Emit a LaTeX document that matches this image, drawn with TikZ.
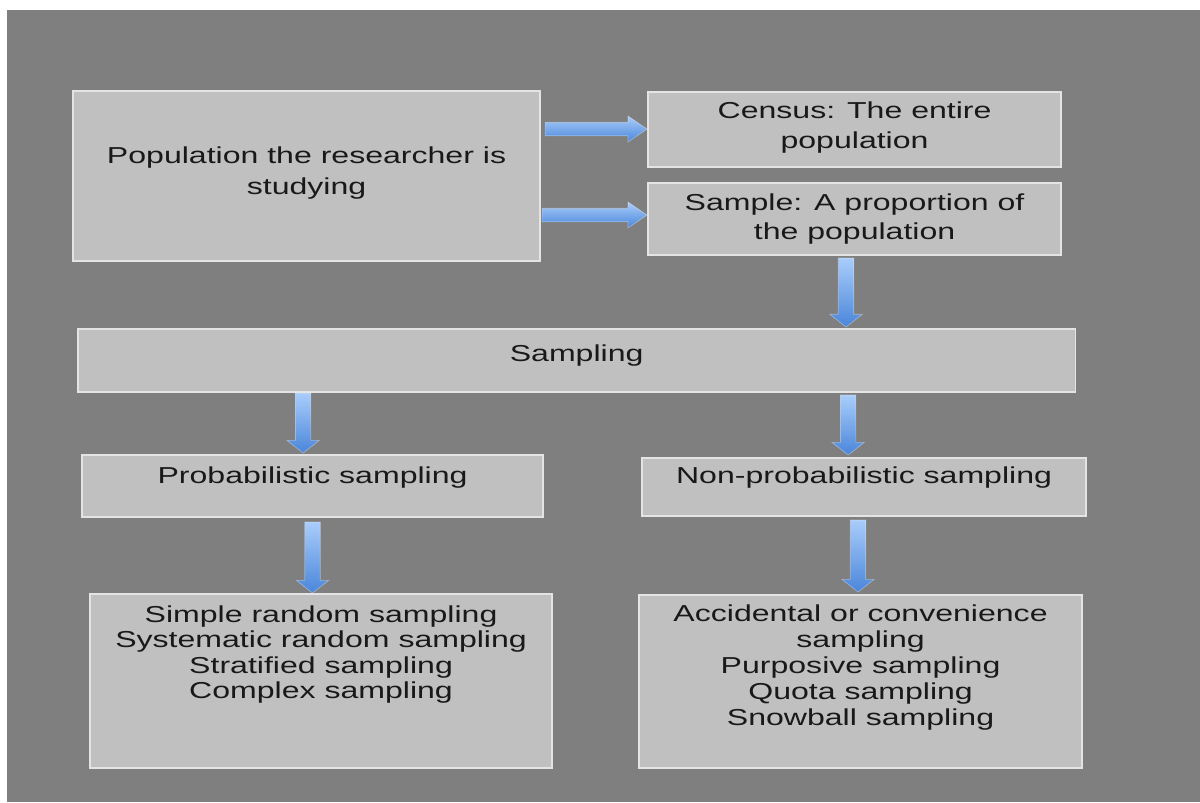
\documentclass[tikz,border=0pt]{standalone}
\usepackage{fontspec}
\setmainfont{Liberation Sans}[FakeStretch=1.39]
\usepackage{tikz}
\usetikzlibrary{calc}
\usepackage{xcolor}

\definecolor{bggray}{HTML}{7F7F7F}
\definecolor{boxgray}{HTML}{C0C0C0}
\definecolor{boxline}{HTML}{E4E4E4}
\definecolor{arrtop}{HTML}{A9CDFB}
\definecolor{arrbot}{HTML}{4A86DA}

\tikzset{
  box/.style={draw=boxline, line width=1pt, fill=boxgray, inner sep=0pt, outer sep=0pt,
    anchor=north west, align=center, text=black!90},
  downarrow/.style={to path={let \p1=(\tikztostart), \p2=(\tikztotarget) in
    (\x1-5.5pt,\y1) -- (\x1-5.5pt,\y2+9pt) -- (\x1-11.5pt,\y2+9pt) -- (\x1,\y2)
    -- (\x1+11.5pt,\y2+9pt) -- (\x1+5.5pt,\y2+9pt) -- (\x1+5.5pt,\y1) -- cycle}},
  rightarrow/.style={to path={let \p1=(\tikztostart), \p2=(\tikztotarget) in
    (\x1,\y1+4.8pt) -- (\x2-13.5pt,\y1+4.8pt) -- (\x2-13.5pt,\y1+9.2pt) -- (\x2,\y1)
    -- (\x2-13.5pt,\y1-9.2pt) -- (\x2-13.5pt,\y1-4.8pt) -- (\x1,\y1-4.8pt) -- cycle}},
  blue arrow/.style={top color=arrtop, bottom color=arrbot, draw=white, draw opacity=0.35, line width=0.5pt}
}

\begin{document}
\begin{tikzpicture}[x=0.025cm, y=-0.025cm]
\useasboundingbox (0,0) rectangle (1200,802);
\fill[white] (0,0) rectangle (1200,802);
\fill[bggray] (7,10) rectangle (1200,802);

% boxes
\node[box, minimum width=11.675cm, text height=2.575cm, text depth=1.675cm,
  font=\fontsize{16.4}{22}\selectfont] (pop) at (73,91)
  {Population the researcher is\\studying};
\node[box, minimum width=10.325cm, text height=1.4cm, text depth=0.475cm,
  font=\fontsize{16.4}{21.3}\selectfont] (census) at (648,92)
  {Census: The entire\\population};
\node[box, minimum width=10.325cm, text height=1.4cm, text depth=0.4cm,
  font=\fontsize{16.4}{20.6}\selectfont] (sample) at (648,183)
  {Sample: A proportion of\\the population};
\node[box, minimum width=24.925cm, text height=0.8cm, text depth=0.775cm,
  font=\fontsize{16.4}{20}\selectfont] (sampling) at (78,329) {Sampling};
\node[box, minimum width=11.525cm, text height=0.7cm, text depth=0.85cm,
  font=\fontsize{16.4}{20}\selectfont] (prob) at (82,455) {Probabilistic sampling};
\node[box, minimum width=11.1cm, text height=0.625cm, text depth=0.825cm,
  font=\fontsize{16.4}{20}\selectfont] (nonprob) at (642,458) {Non-probabilistic sampling};
\node[box, minimum width=11.55cm, text height=2.6cm, text depth=1.75cm,
  font=\fontsize{16.4}{17.8}\selectfont] (problist) at (90,594)
  {Simple random sampling\\Systematic random sampling\\Stratified sampling\\Complex sampling};
\node[box, minimum width=11.075cm, text height=3.25cm, text depth=1.075cm,
  font=\fontsize{16.4}{18.4}\selectfont] (nonproblist) at (639,595)
  {Accidental or convenience\\sampling\\Purposive sampling\\Quota sampling\\Snowball sampling};

% arrows
\path[blue arrow] ($(pop.east)+(5,-47)$) to[rightarrow] ($(census.west)+(-1,0)$);
\path[blue arrow] ($(pop.east)+(2,39)$) to[rightarrow] ($(sample.west)+(-1,0)$);
\path[blue arrow] ($(sample.south)+(-8.5,3)$) to[downarrow] ($(sampling.north)+(0,-2)$);
\path[blue arrow] ($(sampling.south)+(-273.5,1)$) to[downarrow] ($(prob.north)+(0,-2)$);
\path[blue arrow] ($(sampling.south)+(271.5,3)$) to[downarrow] ($(nonprob.north)+(0,-3)$);
\path[blue arrow] ($(prob.south)+(0,5)$) to[downarrow] ($(problist.north)+(0,-1)$);
\path[blue arrow] ($(nonprob.south)+(-6,4)$) to[downarrow] ($(nonproblist.north)+(0,-3)$);
\end{tikzpicture}
\end{document}
